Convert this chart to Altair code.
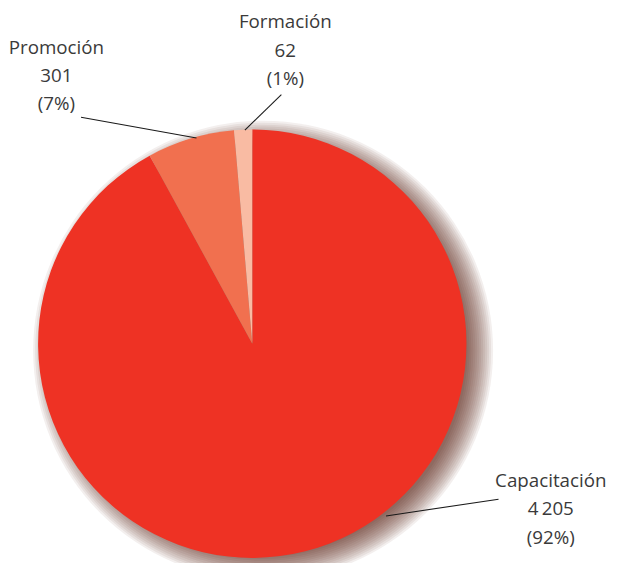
import altair as alt
import pandas as pd

# ---- data ----
categories = ["Capacitación", "Promoción", "Formación"]
values = [4205, 301, 62]
value_labels = ["4\u2009205", "301", "62"]
percent_labels = ["(92%)", "(7%)", "(1%)"]
colors = ["#EE3224", "#F1704F", "#F9BBA3"]

# ---- layout (pixels, chart coords) ----
CX, CY, R = 247.5, 336.5, 217
label_pos = [(550, 476), (49, 37), (281, 11)]
leaders = [((497, 494), (383, 511)), ((74, 107), (191, 128)), ((277, 84), (240, 120))]

df = pd.DataFrame({
    "cat": categories,
    "val": values,
    "idx": list(range(len(categories))),
})

lab = pd.DataFrame({
    "txt": [f"{c}\n{v}\n{p}" for c, v, p in zip(categories, value_labels, percent_labels)],
    "lx": [p[0] for p in label_pos],
    "ly": [p[1] for p in label_pos],
})

lines = pd.DataFrame({
    "x1": [a[0] for a, b in leaders],
    "y1": [a[1] for a, b in leaders],
    "x2": [b[0] for a, b in leaders],
    "y2": [b[1] for a, b in leaders],
})

one = alt.Data(values=[{"a": 1}])

# soft shadow: stacked translucent discs
shadow_layers = []
for i in range(14):
    r = R - 10 + 2 * i
    shadow_layers.append(
        alt.Chart(one).mark_arc(
            radius=r, theta=0, theta2=6.2832, color="#5c1c0c", opacity=0.07
        ).encode(x=alt.value(CX + 11), y=alt.value(CY + 7))
    )

pie = alt.Chart(df).mark_arc(radius=R, stroke=None).encode(
    theta=alt.Theta("val:Q", stack=True),
    order=alt.Order("idx:Q"),
    color=alt.Color("cat:N", scale=alt.Scale(domain=categories, range=colors), legend=None),
    x=alt.value(CX),
    y=alt.value(CY),
)

rules = alt.Chart(lines).mark_rule(color="#1a1a1a", strokeWidth=1.1).encode(
    x=alt.X("x1:Q", scale=None),
    y=alt.Y("y1:Q", scale=None),
    x2="x2:Q",
    y2="y2:Q",
)

texts = alt.Chart(lab).mark_text(
    font="Open Sans", fontSize=19, color="#3a3a3a", lineBreak="\n",
    lineHeight=28.5, align="center", baseline="middle",
).encode(
    x=alt.X("lx:Q", scale=None),
    y=alt.Y("ly:Q", scale=None),
    text="txt:N",
)

chart = alt.layer(*shadow_layers, pie, rules, texts).properties(
    width=613, height=555, autosize="none", padding=0
).configure_view(stroke=None)

chart.save("out.html", embed_options={"renderer": "svg", "actions": False})
